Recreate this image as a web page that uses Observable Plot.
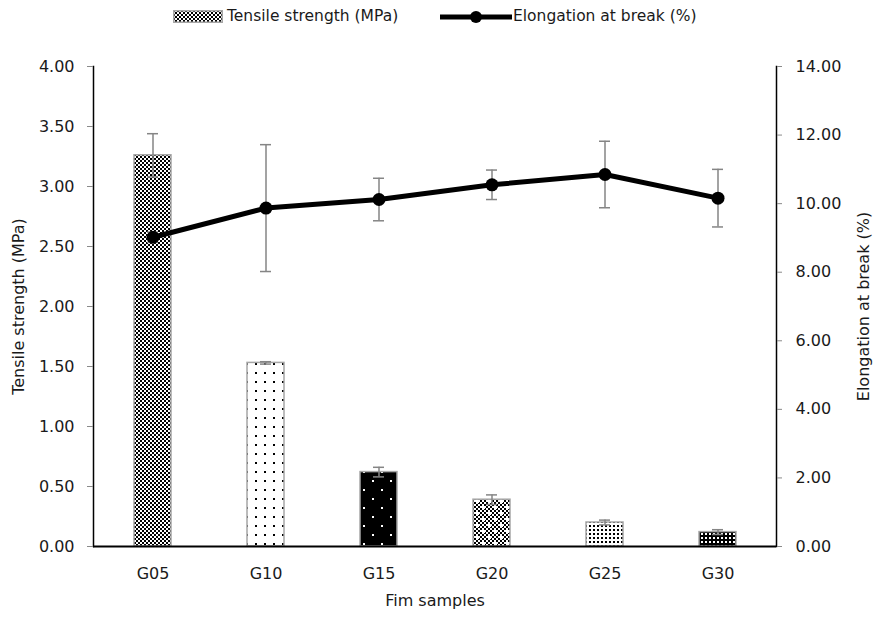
<!DOCTYPE html>
<html>
<head>
<meta charset="utf-8">
<script src="https://cdn.jsdelivr.net/npm/d3@7"></script>
<script src="https://cdn.jsdelivr.net/npm/@observablehq/plot@0.6"></script>
<style>
  body { margin: 0; background: #fff; font-family: "DejaVu Sans", sans-serif; }
  #legend { position: relative; width: 876px; height: 36px; font-size: 15.5px; color: #1a1a1a; }
  #legend > * { position: absolute; }
  #legend span { white-space: nowrap; line-height: 18px; }
</style>
</head>
<body>
<div id="legend">
  <svg style="left:173px;top:10px" width="50" height="13">
    <defs>
      <pattern id="lg-check" width="4" height="4" patternUnits="userSpaceOnUse">
        <rect width="4" height="4" fill="#fff"/>
        <rect width="2" height="2" fill="#000"/>
        <rect x="2" y="2" width="2" height="2" fill="#000"/>
      </pattern>
    </defs>
    <rect x="0.75" y="0.75" width="48.5" height="11.5" fill="url(#lg-check)" stroke="#a6a6a6" stroke-width="1.5"/>
  </svg>
  <span style="left:227px;top:7px">Tensile strength (MPa)</span>
  <svg style="left:440px;top:7px" width="72" height="20">
    <line x1="0" y1="10" x2="72" y2="10" stroke="#000" stroke-width="5"/>
    <circle cx="36" cy="10" r="6" fill="#000"/>
  </svg>
  <span style="left:513px;top:7px">Elongation at break (%)</span>
</div>
<div id="chart"></div>
<script>
// Film samples and their measured properties
const samples = ["G05", "G10", "G15", "G20", "G25", "G30"];
const tensile = [3.26, 1.53, 0.62, 0.39, 0.20, 0.12];          // MPa
const tensileErr = [0.18, 0.01, 0.04, 0.04, 0.02, 0.02];
const elongation = [9.02, 9.87, 10.12, 10.55, 10.85, 10.16];   // %
const elongationErr = [0.15, 1.85, 0.62, 0.43, 0.97, 0.84];

// Axis ticks
const tensileTicks = [0, 0.5, 1, 1.5, 2, 2.5, 3, 3.5, 4];
const elongationTicks = [0, 2, 4, 6, 8, 10, 12, 14];

// Elongation shares the left y scale, rescaled from [0, 14] onto [0, 4]
const k = 4 / 14;

// Fill pattern per sample
const patternIds = ["pat-g05", "pat-g10", "pat-g15", "pat-g20", "pat-g25", "pat-g30"];

const rows = samples.map((s, i) => ({
  sample: s,
  ts: tensile[i],
  tsErr: tensileErr[i],
  el: elongation[i],
  elErr: elongationErr[i]
}));

const errColor = "#858585";

const chart = Plot.plot({
  width: 876,
  height: 581,
  marginTop: 30,
  marginBottom: 71,
  marginLeft: 93,
  marginRight: 100,
  style: { fontFamily: "'DejaVu Sans', sans-serif", fontSize: "16px", color: "#1a1a1a", background: "#fff" },
  x: { domain: samples, paddingInner: 0.675, paddingOuter: 0.3375 },
  y: { domain: [0, 4] },
  color: { type: "ordinal", domain: samples, range: patternIds.map(id => `url(#${id})`) },
  marks: [
    Plot.barY(rows, { x: "sample", y: "ts", fill: "sample", stroke: "#a6a6a6", strokeWidth: 1.5 }),
    // tensile strength error bars
    Plot.ruleX(rows, { x: "sample", y1: d => d.ts - d.tsErr, y2: d => d.ts + d.tsErr, stroke: errColor, strokeWidth: 1.5 }),
    Plot.tickY(rows, { x: "sample", y: d => d.ts + d.tsErr, insetLeft: 13, insetRight: 13, stroke: errColor, strokeWidth: 1.5 }),
    Plot.tickY(rows, { x: "sample", y: d => d.ts - d.tsErr, insetLeft: 13, insetRight: 13, stroke: errColor, strokeWidth: 1.5 }),
    // elongation error bars
    Plot.ruleX(rows, { x: "sample", y1: d => (d.el - d.elErr) * k, y2: d => (d.el + d.elErr) * k, stroke: errColor, strokeWidth: 1.5 }),
    Plot.tickY(rows, { x: "sample", y: d => (d.el + d.elErr) * k, insetLeft: 13, insetRight: 13, stroke: errColor, strokeWidth: 1.5 }),
    Plot.tickY(rows, { x: "sample", y: d => (d.el - d.elErr) * k, insetLeft: 13, insetRight: 13, stroke: errColor, strokeWidth: 1.5 }),
    // elongation line
    Plot.line(rows, { x: "sample", y: d => d.el * k, stroke: "#000", strokeWidth: 5 }),
    Plot.dot(rows, { x: "sample", y: d => d.el * k, r: 6.5, fill: "#000" }),
    // axis lines
    Plot.frame({ anchor: "left", stroke: "#000", strokeWidth: 1.5 }),
    Plot.frame({ anchor: "right", stroke: "#000", strokeWidth: 1.5 }),
    Plot.ruleY([0], { stroke: "#000", strokeWidth: 2 }),
    // axes
    Plot.axisY(tensileTicks, { anchor: "left", tickFormat: d => d.toFixed(2), tickSize: 6, tickPadding: 13, stroke: "#8a8a8a", label: null }),
    Plot.axisY(elongationTicks.map(v => v * k), { anchor: "right", tickFormat: d => (d / k).toFixed(2), tickSize: 5, tickPadding: 14, stroke: "#8a8a8a", label: null }),
    Plot.axisX({ tickSize: 0, tickPadding: 21, label: null }),
    // axis titles
    Plot.text(["Tensile strength (MPa)"], { frameAnchor: "left", textAnchor: "middle", rotate: -90, dx: -75, fontSize: 16 }),
    Plot.text(["Elongation at break (%)"], { frameAnchor: "right", textAnchor: "middle", rotate: -90, dx: 87, fontSize: 16 }),
    Plot.text(["Fim samples"], { frameAnchor: "bottom", textAnchor: "middle", dy: 59, fontSize: 16 })
  ]
});

// Pattern definitions used by the bar fills
const svg = d3.select(chart);
const defs = svg.insert("defs", ":first-child");

function pattern(id, w, h, bg, fg, cells) {
  const p = defs.append("pattern").attr("id", id).attr("width", w).attr("height", h).attr("patternUnits", "userSpaceOnUse");
  p.append("rect").attr("width", w).attr("height", h).attr("fill", bg);
  for (const [x, y, cw, ch, c] of cells) {
    p.append("rect").attr("x", x).attr("y", y).attr("width", cw).attr("height", ch).attr("fill", c || fg);
  }
}

// fine checkerboard
pattern("pat-g05", 4, 4, "#fff", "#000", [[0, 0, 2, 2], [2, 2, 2, 2]]);
// sparse black dots on white
pattern("pat-g10", 9, 9, "#fff", "#000", [[3, 3, 2, 2]]);
// sparse white dots on black, staggered
pattern("pat-g15", 18, 18, "#000", "#fff", [[3, 3, 2, 2], [12, 12, 2, 2]]);
// checkerboard with white blotches
pattern("pat-g20", 12, 12, "#fff", "#000", [
  [0, 0, 2, 2], [2, 2, 2, 2], [4, 0, 2, 2], [6, 2, 2, 2], [8, 0, 2, 2], [10, 2, 2, 2],
  [0, 4, 2, 2], [2, 6, 2, 2], [4, 4, 2, 2], [6, 6, 2, 2], [8, 4, 2, 2], [10, 6, 2, 2],
  [0, 8, 2, 2], [2, 10, 2, 2], [4, 8, 2, 2], [6, 10, 2, 2], [8, 8, 2, 2], [10, 10, 2, 2],
  [2, 2, 3, 3, "#fff"], [8, 8, 3, 3, "#fff"]
]);
// dense black dots on white
pattern("pat-g25", 4, 4, "#fff", "#000", [[1, 1, 2, 2]]);
// dense white dots on black
pattern("pat-g30", 4, 4, "#000", "#fff", [[1, 1, 2, 2]]);

document.getElementById("chart").appendChild(chart);
</script>
</body>
</html>
